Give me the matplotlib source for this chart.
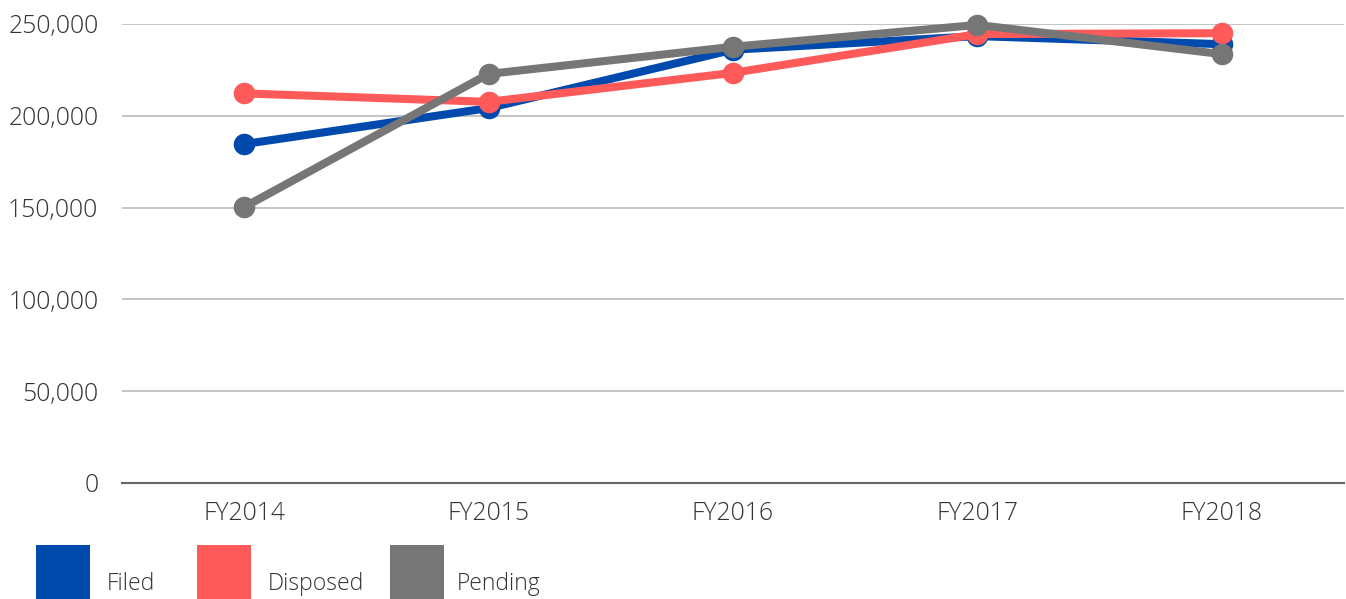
import matplotlib
matplotlib.use("Agg")
import matplotlib.pyplot as plt
from matplotlib.patches import Rectangle
from matplotlib.ticker import FuncFormatter

categories = ["FY2014", "FY2015", "FY2016", "FY2017", "FY2018"]
filed = [184600, 204200, 236000, 243400, 239000]
disposed = [212200, 207600, 223400, 244500, 245000]
pending = [150300, 222800, 237600, 249500, 233600]
series_names = ["Filed", "Disposed", "Pending"]
colors = ["#004AAD", "#FF5A5A", "#767676"]

plt.rcParams['font.family'] = ['Open Sans', 'DejaVu Sans']

fig = plt.figure(figsize=(13.46, 5.99), dpi=100)
ax = fig.add_axes([122/1346, (599-483)/599, (1344-122)/1346, (483-24)/599])

x = list(range(len(categories)))
for vals, c in zip([filed, disposed, pending], colors):
    ax.plot(x, vals, color=c, lw=5.8, marker='o', ms=14.5, clip_on=False, zorder=3)

ax.set_xlim(-0.5, 4.5)
ax.set_ylim(0, 250000)
ax.set_yticks(range(0, 250001, 50000))
ax.yaxis.set_major_formatter(FuncFormatter(lambda v, p: f"{int(v):,}"))
ax.set_xticks(x)
ax.set_xticklabels(categories)
ax.grid(axis='y', color='#BFBFBF', lw=1.3)
ax.set_axisbelow(True)
for s in ['top', 'right', 'left']:
    ax.spines[s].set_visible(False)
ax.spines['bottom'].set_color('#666666')
ax.spines['bottom'].set_linewidth(1.5)
ax.tick_params(axis='both', length=0, labelsize=17.8, colors='#333333')
ax.tick_params(axis='y', pad=17)
ax.tick_params(axis='x', pad=13)
for lab in ax.get_xticklabels() + ax.get_yticklabels():
    lab.set_fontweight('light')

W, H = 1346, 599
sq_x = [36, 197, 390]
tx_x = [107, 268, 457]
for name, c, sx, tx in zip(series_names, colors, sq_x, tx_x):
    fig.add_artist(Rectangle((sx / W, (H - 600) / H), 54 / W, 55 / H,
                             transform=fig.transFigure, color=c, lw=0))
    fig.text(tx / W, (H - 584) / H, name, fontsize=16.5, color='#333333',
             fontweight='light', va='center', ha='left')

fig.savefig("out.png", dpi=100)
